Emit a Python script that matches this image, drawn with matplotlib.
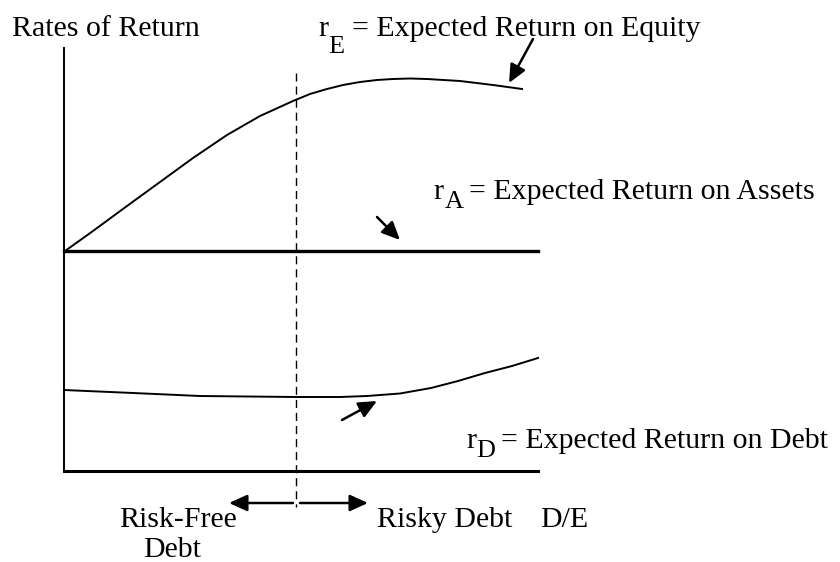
import matplotlib.pyplot as plt

plt.rcParams['font.family'] = ['Liberation Serif', 'DejaVu Serif']

# curves (x = D/E position, y = rate, both in picture units)
re_x = [65, 93, 127, 160, 193, 227, 260, 293, 310, 327, 343, 360, 377, 393, 410, 427, 460, 493, 522]
re_y = [251, 231, 206, 182, 158, 135, 116, 101, 94, 89, 85, 82, 80, 79, 78.5, 79, 81, 85, 89]
ra_x = [64, 538]
ra_y = [251, 251]
rd_x = [64, 133, 200, 295, 340, 367, 400, 431, 458, 485, 512, 538]
rd_y = [390, 393, 396, 397, 397, 396, 393.5, 388, 381, 373, 366, 358]
axis_x0 = 64
axis_top = 48
axis_bottom = 471
axis_right = 538
split_x = 296
split_top = 73
split_bottom = 507

fig = plt.figure(figsize=(8.4, 5.62), dpi=100)
ax = fig.add_axes([0, 0, 1, 1])
ax.set_xlim(0, 840)
ax.set_ylim(562, 0)
ax.axis('off')

# axes
ax.plot([axis_x0, axis_x0], [axis_top, axis_bottom], color='black', lw=1.4)
ax.plot([axis_x0, axis_right], [axis_bottom, axis_bottom], color='black', lw=2.2)

# curves
ax.plot(re_x, re_y, color='black', lw=1.4, solid_joinstyle='round')
ax.plot(ra_x, ra_y, color='black', lw=2.4)
ax.plot(rd_x, rd_y, color='black', lw=1.4, solid_joinstyle='round')

# dashed divider
ax.plot([split_x, split_x], [split_top, split_bottom], color='black', lw=1.0, ls=(0, (5.8, 3.6)))

fs = 21.5


def label(x_r, x_sub, x_rest, y, y_sub, sub, rest):
    ax.text(x_r, y, 'r', fontsize=fs, va='baseline', ha='left')
    ax.text(x_sub, y_sub, sub, fontsize=fs * 0.88, va='baseline', ha='left')
    ax.text(x_rest, y, rest, fontsize=fs, va='baseline', ha='left')


ax.text(12, 36, 'Rates of Return', fontsize=fs, va='baseline', ha='left')
label(318, 328, 352, 36, 53, 'E', '= Expected Return on Equity')
label(433, 445, 469, 199, 208, 'A', '= Expected Return on Assets')
label(466, 476, 501, 448, 457, 'D', '= Expected Return on Debt')
ax.text(178, 527, 'Risk-Free', fontsize=fs, va='baseline', ha='center')
ax.text(172, 557, 'Debt', fontsize=fs, va='baseline', ha='center')
ax.text(377, 527, 'Risky Debt', fontsize=fs, va='baseline', ha='left')
ax.text(540, 527, 'D/E', fontsize=fs, va='baseline', ha='left')

arrow = dict(arrowstyle='-|>,head_length=1.1,head_width=0.5', color='black', lw=1.8,
             shrinkA=0, shrinkB=0)
ax.annotate('', xy=(509, 83), xytext=(533, 39), arrowprops=arrow)
ax.annotate('', xy=(400, 240), xytext=(377, 217), arrowprops=arrow)
ax.annotate('', xy=(377, 401), xytext=(342, 420), arrowprops=arrow)
ax.annotate('', xy=(229, 503), xytext=(293, 503), arrowprops=arrow)
ax.annotate('', xy=(368, 503), xytext=(300, 503), arrowprops=arrow)

fig.savefig('out.png', dpi=100)
